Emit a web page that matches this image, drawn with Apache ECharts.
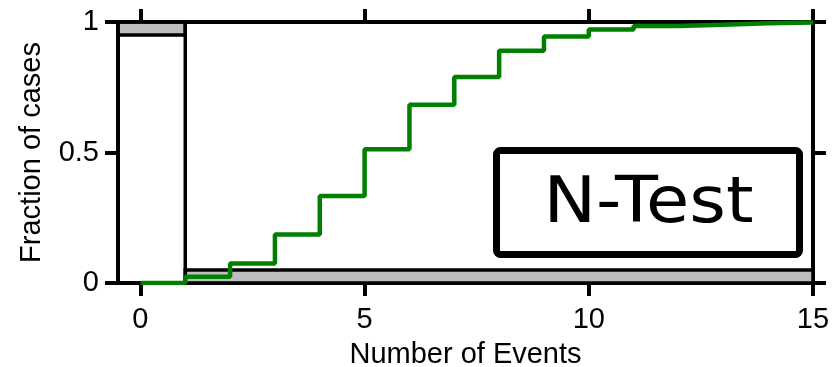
<!DOCTYPE html>
<html>
<head>
<meta charset="utf-8">
<script src="https://cdn.jsdelivr.net/npm/echarts@6/dist/echarts.min.js"></script>
<style>
  html, body { margin: 0; padding: 0; background: #fff; }
  #chart { width: 838px; height: 367px; }
</style>
</head>
<body>
<div id="chart"></div>
<script>
// Cumulative fraction of simulated catalogues with k events
const eventCounts = [0, 1, 2, 3, 4, 5, 6, 7, 8, 9, 10, 11, 12, 13, 14, 15];
const cumulativeFraction = [0.0, 0.024, 0.075, 0.186, 0.333, 0.512, 0.683, 0.789,
                            0.890, 0.944, 0.971, 0.985, 0.989, 0.995, 0.998, 1.0];

// Quantile regions: [xStart, xEnd, yStart, yEnd]
const shadedRegions = [
  [-0.5, 1, 0.95, 1.0],
  [1, 15, 0.0, 0.05]
];
const outlineRegions = [
  [-0.5, 1, 0.0, 1.0]
];

const xTicks = [0, 5, 10, 15];
const yTicks = [0, 0.5, 1];
const xRange = [-0.5, 15];
const yRange = [0, 1];

const lineColor = '#000';
const font = 'Liberation Sans, Arial, sans-serif';

function rectItem(params, api, fill) {
  const p0 = api.coord([api.value(0), api.value(3)]);
  const p1 = api.coord([api.value(1), api.value(2)]);
  return {
    type: 'rect',
    shape: { x: p0[0], y: p0[1], width: p1[0] - p0[0], height: p1[1] - p0[1] },
    style: { fill: fill, stroke: lineColor, lineWidth: 3.5 }
  };
}

const chart = echarts.init(document.getElementById('chart'), null, { renderer: 'canvas' });

const axisCommon = {
  type: 'value',
  axisLine: { show: true, onZero: false, lineStyle: { color: lineColor, width: 4 } },
  axisTick: { show: true, inside: false, length: 13, lineStyle: { color: lineColor, width: 4 } },
  splitLine: { show: false }
};

chart.setOption({
  animation: false,
  grid: { left: 118, right: 25, top: 22, bottom: 84, outerBoundsMode: 'none', containLabel: false },
  xAxis: [
    Object.assign({}, axisCommon, {
      position: 'bottom',
      min: xRange[0], max: xRange[1],
      name: 'Number of Events',
      nameLocation: 'middle',
      nameGap: 57,
      nameTextStyle: { color: '#000', fontFamily: font, fontSize: 29 },
      axisTick: Object.assign({}, axisCommon.axisTick, { customValues: xTicks }),
      axisLabel: { customValues: xTicks, color: '#000', fontFamily: font, fontSize: 29, margin: 22 }
    }),
    Object.assign({}, axisCommon, {
      position: 'top',
      min: xRange[0], max: xRange[1],
      axisTick: Object.assign({}, axisCommon.axisTick, { customValues: xTicks }),
      axisLabel: { show: false }
    })
  ],
  yAxis: [
    Object.assign({}, axisCommon, {
      position: 'left',
      min: yRange[0], max: yRange[1],
      name: 'Fraction of cases',
      nameLocation: 'middle',
      nameGap: 72,
      nameRotate: 90,
      nameTextStyle: { color: '#000', fontFamily: font, fontSize: 29 },
      axisTick: Object.assign({}, axisCommon.axisTick, { customValues: yTicks }),
      axisLabel: { customValues: yTicks, color: '#000', fontFamily: font, fontSize: 29, margin: 19 }
    }),
    Object.assign({}, axisCommon, {
      position: 'right',
      min: yRange[0], max: yRange[1],
      axisTick: Object.assign({}, axisCommon.axisTick, { customValues: yTicks }),
      axisLabel: { show: false }
    })
  ],
  series: [
    {
      type: 'custom',
      xAxisIndex: 0, yAxisIndex: 0,
      data: shadedRegions,
      encode: { x: [0, 1], y: [2, 3] },
      renderItem: (params, api) => rectItem(params, api, '#bebebe'),
      z: 1
    },
    {
      type: 'custom',
      xAxisIndex: 0, yAxisIndex: 0,
      data: outlineRegions,
      encode: { x: [0, 1], y: [2, 3] },
      renderItem: (params, api) => rectItem(params, api, 'none'),
      z: 2
    },
    {
      type: 'line',
      xAxisIndex: 0, yAxisIndex: 0,
      step: 'end',
      data: eventCounts.map((k, i) => [k, cumulativeFraction[i]]),
      showSymbol: false,
      lineStyle: { color: '#008000', width: 4.5 },
      z: 3
    }
  ],
  graphic: [
    {
      type: 'rect',
      shape: { x: 496.5, y: 150.5, width: 303, height: 104, r: 4 },
      style: { fill: '#fff', stroke: '#000', lineWidth: 7 },
      z: 10
    },
    {
      type: 'text',
      x: 648.5, y: 205.5,
      scaleX: 1.1,
      style: {
        text: 'N-Test',
        fontFamily: 'DejaVu Sans',
        fontSize: 64,
        fill: '#000',
        align: 'center',
        verticalAlign: 'middle'
      },
      z: 11
    }
  ]
});
</script>
</body>
</html>
